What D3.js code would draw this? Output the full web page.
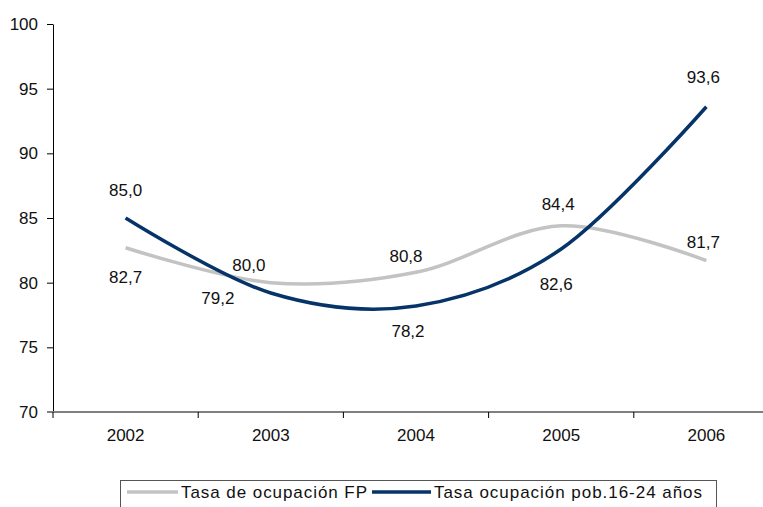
<!DOCTYPE html>
<html>
<head>
<meta charset="utf-8">
<script src="https://cdn.jsdelivr.net/npm/d3@7"></script>
<style>
  body { margin: 0; background: #fff; }
  svg { display: block; font-family: "Liberation Sans", Arial, sans-serif; }
  .yAxis path, .yAxis line { stroke: #000; }
  .xAxis line { stroke: #000; }
  .xAxis path { stroke: #808080; stroke-width: 2; }
  text { fill: #111; }
</style>
</head>
<body>
<script>
"use strict";

// chart data
var years = ["2002", "2003", "2004", "2005", "2006"];
var fpValues = [82.7, 80.0, 80.8, 84.4, 81.7];
var youthValues = [85.0, 79.2, 78.2, 82.6, 93.6];
var yTicks = [70, 75, 80, 85, 90, 95, 100];
var seriesNames = ["Tasa de ocupación FP", "Tasa ocupación pob.16-24 años"];

// label nudges (dx, dy from the point), as placed in the original
var fpLabelShift = [[0, 30], [-22, -17], [-10, -16], [-3, -21], [-3, -18]];
var youthLabelShift = [[0, -28], [-53, 5], [-8, 26], [-5, 35], [-3, -29]];

(function () {
  var width = 763, height = 507;
  var padLeft = 53, padRight = 779, padTop = 24, padBottom = 412;
  var fontSize = '17px';

  var svg = d3.select('body').append('svg')
    .attr('width', width)
    .attr('height', height);

  var xBand = d3.scaleBand().domain(years).range([padLeft, padRight]);
  var xScale = function (d) { return xBand(d) + xBand.bandwidth() / 2; };
  var yScale = d3.scaleLinear().domain([70, 100]).range([padBottom, padTop]);

  // y axis
  var yDrawn = svg.append('g')
    .attr('class', 'yAxis')
    .attr('transform', 'translate(' + padLeft + ',0)')
    .call(d3.axisLeft(yScale).tickValues(yTicks).tickSize(6).tickSizeOuter(0).tickPadding(9));
  yDrawn.selectAll('text').style('font-size', fontSize);

  // x axis (gray baseline, ticks between categories)
  var xDrawn = svg.append('g')
    .attr('class', 'xAxis')
    .attr('transform', 'translate(0,' + padBottom + ')')
    .call(d3.axisBottom(xBand).tickSize(0).tickSizeOuter(0).tickPadding(17));
  xDrawn.select('.domain').attr('d', 'M' + (padLeft - 6) + ',0H' + width);
  xDrawn.selectAll('text').style('font-size', fontSize);
  xDrawn.selectAll('.divider')
    .data(years)
    .enter().append('line')
    .attr('class', 'divider')
    .attr('x1', function (d) { return xBand(d); })
    .attr('x2', function (d) { return xBand(d); })
    .attr('y1', 0)
    .attr('y2', 6)
    .attr('stroke', '#000');

  var series = [
    { name: seriesNames[0], values: fpValues, color: '#c3c3c3', shift: fpLabelShift },
    { name: seriesNames[1], values: youthValues, color: '#063468', shift: youthLabelShift }
  ];

  var line = d3.line()
    .x(function (d, i) { return xScale(years[i]); })
    .y(function (d) { return yScale(d); })
    .curve(d3.curveCardinal.tension(0));

  series.forEach(function (s) {
    svg.append('path')
      .attr('d', line(s.values))
      .attr('fill', 'none')
      .attr('stroke', s.color)
      .attr('stroke-width', 3.5)
      .attr('stroke-linejoin', 'round');
  });

  series.forEach(function (s) {
    svg.append('g').selectAll('text')
      .data(s.values)
      .enter().append('text')
      .attr('x', function (d, i) { return xScale(years[i]) + s.shift[i][0]; })
      .attr('y', function (d, i) { return yScale(d) + s.shift[i][1]; })
      .attr('text-anchor', 'middle')
      .attr('dominant-baseline', 'central')
      .style('font-size', fontSize)
      .text(function (d) { return d.toFixed(1).replace('.', ','); });
  });

  // legend
  var legend = svg.append('g').attr('class', 'legend');
  legend.append('rect')
    .attr('x', 120.5)
    .attr('y', 480.5)
    .attr('width', 596)
    .attr('height', 40)
    .attr('fill', '#fff')
    .attr('stroke', '#555');

  var legendItems = [
    { x1: 127, x2: 178, tx: 181, len: 186 },
    { x1: 372, x2: 431, tx: 434, len: 268 }
  ];
  legendItems.forEach(function (it, i) {
    legend.append('line')
      .attr('x1', it.x1).attr('x2', it.x2)
      .attr('y1', 492).attr('y2', 492)
      .attr('stroke', series[i].color)
      .attr('stroke-width', 3.5);
    legend.append('text')
      .attr('x', it.tx)
      .attr('y', 492)
      .attr('dominant-baseline', 'central')
      .attr('textLength', it.len)
      .attr('lengthAdjust', 'spacing')
      .style('font-size', fontSize)
      .text(series[i].name);
  });
})();
</script>
</body>
</html>
